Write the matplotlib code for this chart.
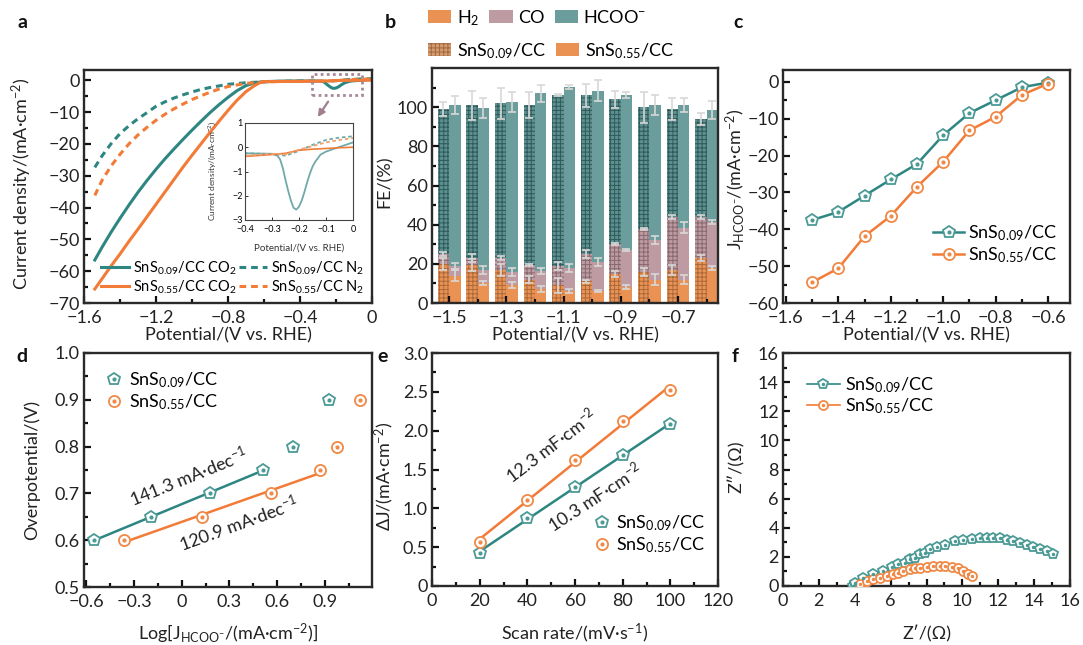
import numpy as np
import matplotlib
matplotlib.use('Agg')
import matplotlib.pyplot as plt
from matplotlib.patches import Patch, Rectangle
from matplotlib.ticker import MultipleLocator, FuncFormatter
from matplotlib.legend_handler import HandlerTuple

plt.rcParams['font.family'] = ['Lato', 'DejaVu Sans']
plt.rcParams['mathtext.fontset'] = 'custom'
plt.rcParams['mathtext.rm'] = 'Lato'
plt.rcParams['mathtext.it'] = 'Lato:italic'
plt.rcParams['mathtext.bf'] = 'Lato:bold'
plt.rcParams['mathtext.default'] = 'regular'
plt.rcParams['hatch.linewidth'] = 0.7

# ---------------- data ----------------
# (a) LSV curves
a_teal_co2_x = [-1.54, -1.5, -1.45, -1.4, -1.35, -1.3, -1.25, -1.2, -1.15, -1.1, -1.05, -1.0, -0.95, -0.9,
                -0.85, -0.8, -0.75, -0.7, -0.65, -0.6, -0.5, -0.4, -0.3, -0.28, -0.27, -0.26, -0.25, -0.24,
                -0.23, -0.22, -0.21, -0.2, -0.19, -0.18, -0.17, -0.16, -0.15, -0.14, -0.12, -0.1, -0.08,
                -0.04, 0.0]
a_teal_co2_y = [-56.5, -52.5, -47.8, -43.4, -39.2, -35.2, -31.5, -28.0, -24.7, -21.6, -18.6, -15.7, -12.9, -10.2,
                -7.7, -5.4, -3.3, -1.7, -0.8, -0.45, -0.3, -0.25, -0.27, -0.35, -0.5, -0.85, -1.35, -1.8,
                -2.2, -2.5, -2.57, -2.45, -2.2, -1.85, -1.45, -1.1, -0.8, -0.6, -0.3, -0.18, -0.1,
                0.05, 0.2]
a_orange_co2_x = [-1.54, -1.5, -1.45, -1.4, -1.35, -1.3, -1.25, -1.2, -1.15, -1.1, -1.05, -1.0, -0.95, -0.9,
                  -0.85, -0.8, -0.75, -0.7, -0.65, -0.62, -0.6, -0.5, -0.4, -0.3, -0.25, -0.2, -0.15, -0.1,
                  -0.05, 0.0]
a_orange_co2_y = [-65.6, -62.4, -58.4, -54.6, -50.6, -46.8, -42.9, -39.0, -35.1, -31.2, -27.3, -23.6, -20.0, -16.4,
                  -12.9, -9.5, -6.3, -3.6, -1.6, -0.7, -0.45, -0.4, -0.38, -0.3, -0.25, -0.12, -0.08, -0.05,
                  -0.02, 0.0]
a_teal_n2_x = [-1.54, -1.5, -1.45, -1.4, -1.35, -1.3, -1.25, -1.2, -1.15, -1.1, -1.05, -1.0, -0.95, -0.9,
               -0.85, -0.8, -0.7, -0.6, -0.5, -0.4, -0.3, -0.25, -0.2, -0.15, -0.1, -0.05, 0.0]
a_teal_n2_y = [-27.4, -23.8, -20.0, -16.8, -14.3, -12.1, -10.2, -8.2, -6.8, -5.6, -4.6, -3.7, -2.9, -2.3,
               -1.8, -1.3, -0.8, -0.5, -0.35, -0.25, -0.28, -0.35, -0.15, 0.1, 0.3, 0.4, 0.45]
a_orange_n2_x = [-1.54, -1.5, -1.45, -1.4, -1.35, -1.3, -1.25, -1.2, -1.15, -1.1, -1.05, -1.0, -0.95, -0.9,
                 -0.85, -0.8, -0.7, -0.6, -0.5, -0.4, -0.3, -0.25, -0.2, -0.15, -0.1, -0.05, 0.0]
a_orange_n2_y = [-36.2, -31.5, -27.0, -23.3, -20.0, -17.2, -14.8, -12.6, -10.7, -9.0, -7.5, -6.1, -4.9, -3.8,
                 -2.8, -2.0, -1.0, -0.55, -0.4, -0.35, -0.27, -0.3, -0.1, 0.05, 0.2, 0.3, 0.38]

# (b) Faradaic efficiency
b_potential = [-1.5, -1.4, -1.3, -1.2, -1.1, -1.0, -0.9, -0.8, -0.7, -0.6]
b09_h2 = [20, 19.5, 17, 12, 9, 11, 15, 16, 17, 23]
b09_co = [5, 3.5, 6, 7.5, 10, 14, 15, 22, 27, 21]
b09_total = [99, 101, 102, 101, 106, 106, 104, 100, 99, 94]
b09_h2_err = [3, 3, 3, 2, 4, 1, 1.5, 2, 2.5, 1.5]
b09_co_err = [1, 2, 1, 0.5, 2, 2, 0.5, 0.5, 1, 1]
b09_tot_err = [3.5, 7.5, 8, 6.5, 0.5, 6, 4.5, 8, 5.5, 3]
b55_h2 = [14, 10, 9, 7, 6, 6, 8, 12, 12, 18]
b55_co = [5, 7, 7, 9.5, 12, 15, 19, 20, 26.5, 23.5]
b55_total = [101, 99.5, 102.5, 107, 110.5, 108.5, 106, 101, 101, 98.5]
b55_h2_err = [3, 1, 1.5, 1.5, 1, 0.5, 1, 3, 2.5, 1]
b55_co_err = [1.5, 2, 2, 1.5, 2, 2, 0.5, 2, 3, 1]
b55_tot_err = [4.5, 5, 5, 4.5, 1, 5.5, 1.5, 5, 3.5, 4.5]

# (c) partial current density of formate
c_potential = [-1.5, -1.4, -1.3, -1.2, -1.1, -1.0, -0.9, -0.8, -0.7, -0.6]
c_j09 = [-37.5, -35.3, -30.9, -26.5, -22.3, -14.5, -8.5, -5.0, -1.5, -0.2]
c_j55 = [-54.4, -50.6, -41.9, -36.4, -28.5, -21.7, -13.2, -9.5, -3.6, -0.5]

# (d) Tafel
d_x09 = [-0.55, -0.195, 0.178, 0.509, 0.70, 0.926]
d_y09 = [0.60, 0.65, 0.70, 0.75, 0.80, 0.90]
d_x55 = [-0.363, 0.13, 0.56, 0.87, 0.975, 1.12]
d_y55 = [0.60, 0.65, 0.70, 0.75, 0.80, 0.90]
d_nfit = 4

# (e) double layer capacitance
e_scan = [20, 40, 60, 80, 100]
e_dj09 = [0.43, 0.87, 1.28, 1.69, 2.08]
e_dj55 = [0.57, 1.11, 1.62, 2.13, 2.53]

# (f) Nyquist
f_z09_re = [3.9, 4.0, 4.01, 4.48, 5.03, 5.59, 6.06, 6.43, 6.80, 7.08, 7.36, 7.64, 7.92, 8.19, 8.57, 9.03,
            9.59, 10.05, 10.52, 10.98, 11.35, 11.72, 12.10, 12.47, 12.84, 13.21, 13.58, 13.95, 14.33,
            14.70, 15.07]
f_z09_im = [0.0, 0.12, 0.23, 0.57, 0.80, 1.03, 1.31, 1.49, 1.61, 1.84, 1.95, 2.18, 2.30, 2.53, 2.69, 2.83,
            3.06, 3.15, 3.22, 3.33, 3.33, 3.33, 3.29, 3.17, 3.06, 2.94, 2.83, 2.69, 2.53, 2.37, 2.18]
f_z55_re = [4.5, 4.29, 4.66, 5.03, 5.41, 5.78, 6.15, 6.43, 6.71, 7.08, 7.36, 7.64, 8.01, 8.38, 8.75, 9.03,
            9.40, 9.77, 10.05, 10.33, 10.52]
f_z55_im = [0.0, 0.11, 0.34, 0.46, 0.57, 0.69, 0.80, 0.92, 1.03, 1.15, 1.22, 1.26, 1.33, 1.38, 1.38, 1.36,
            1.31, 1.22, 1.03, 0.85, 0.69]

# ---------------- style ----------------
TEAL = '#2E8682'
ORANGE = '#F27B37'
MT = '#4C9A96'
MO = '#F08946'
FRAME = '#2a2a2a'
C_H2 = '#EA9253'
C_CO = '#BE9AA2'
C_HC = '#6A9D9C'
H_H2 = '#A9693B'
H_CO = '#876970'
H_HC = '#2E5A5A'
FS = 13

W, H = 1083, 645
fig = plt.figure(figsize=(W / 100, H / 100), dpi=100)


def add_ax(x0, y0, x1, y1):
    return fig.add_axes([x0 / W, 1 - y1 / H, (x1 - x0) / W, (y1 - y0) / H])


def style(ax, lw=1.7, fs=FS):
    for s in ax.spines.values():
        s.set_linewidth(lw)
        s.set_color(FRAME)
    ax.tick_params(which='both', direction='in', top=False, right=False, width=1.6, color='#111111')
    ax.tick_params(which='major', length=5, labelsize=fs, labelcolor='#222222')
    ax.tick_params(axis='x', which='major', pad=5)
    ax.tick_params(axis='y', which='major', pad=3)
    ax.tick_params(which='minor', length=3)


def labels(ax, xl, yl, xy=-0.14, yx=-0.2, yy=0.5):
    ax.text(0.5, xy, xl, transform=ax.transAxes, ha='center', va='center', fontsize=FS, color='#222222')
    ax.text(yx, yy, yl, transform=ax.transAxes, ha='center', va='center', rotation=90, fontsize=FS,
            color='#222222')


def fmt0(v, pos):
    if abs(v) < 1e-9:
        return '0'
    return ('%g' % v).replace('-', '\u2212')


def fmt1(v, pos):
    if abs(v) < 1e-9:
        return '0'
    return ('%.1f' % v).replace('-', '\u2212')


def hollow(ax, x, y, color, marker, ms=8, ls='-', lw=1.8, lcolor=None, dot=2.0, z=3):
    ln = ax.plot(x, y, ls=ls, lw=lw, color=lcolor or color, marker=marker, ms=ms, mfc='white',
                 mec=color, mew=1.3, zorder=z)[0]
    dt = ax.plot(x, y, ls='none', marker='o', ms=dot, color=color, zorder=z + 0.1)[0]
    return ln, dt


HT = {tuple: HandlerTuple(ndivide=1)}

# ---------------- (a) ----------------
axa = add_ax(84, 70, 372, 303)
style(axa)
axa.plot(a_teal_co2_x, a_teal_co2_y, color=TEAL, lw=2.2, label='SnS$_{0.09}$/CC CO$_2$')
axa.plot(a_teal_n2_x, a_teal_n2_y, color=TEAL, lw=2.2, ls=(0, (2.2, 1.6)), label='SnS$_{0.09}$/CC N$_2$')
axa.plot(a_orange_co2_x, a_orange_co2_y, color=ORANGE, lw=2.2, label='SnS$_{0.55}$/CC CO$_2$')
axa.plot(a_orange_n2_x, a_orange_n2_y, color=ORANGE, lw=2.2, ls=(0, (2.2, 1.6)), label='SnS$_{0.55}$/CC N$_2$')
axa.set_xlim(-1.6, 0)
axa.set_ylim(-70, 3.2)
axa.xaxis.set_major_locator(MultipleLocator(0.4))
axa.xaxis.set_minor_locator(MultipleLocator(0.2))
axa.yaxis.set_major_locator(MultipleLocator(10))
axa.yaxis.set_minor_locator(MultipleLocator(5))
axa.xaxis.set_major_formatter(FuncFormatter(fmt1))
axa.yaxis.set_major_formatter(FuncFormatter(fmt0))
labels(axa, 'Potential/(V vs. RHE)', 'Current density/(mA\u00b7cm$^{-2}$)', xy=-0.137, yx=-0.215, yy=0.51)
hs, ls_ = axa.get_legend_handles_labels()
order = [0, 2, 1, 3]
axa.legend([hs[i] for i in order], [ls_[i] for i in order], ncol=2, loc='lower right', frameon=False,
           fontsize=10.5, handlelength=1.9, handletextpad=0.3, columnspacing=0.15, labelspacing=0.1,
           borderaxespad=0.1, bbox_to_anchor=(1.0, 0.0))
axa.add_patch(Rectangle((-0.335, -4.7), 0.28, 6.6, fill=False, ls=(0, (1, 1.2)), lw=2.0, ec='#A88898',
                        zorder=4))
axa.annotate('', xy=(-0.31, -12.3), xytext=(-0.235, -6.0),
             arrowprops=dict(arrowstyle='-|>', color='#A08090', lw=1.6, mutation_scale=10))

# inset
axi = add_ax(245, 123, 353, 220)
for s in axi.spines.values():
    s.set_linewidth(0.8)
    s.set_color('#444444')
axi.tick_params(which='both', direction='in', top=False, right=False, width=0.7, color='#333333')
axi.tick_params(which='major', length=2.5, labelsize=6.5)
axi.tick_params(axis='x', pad=3.5)
axi.tick_params(axis='y', pad=1.5)
axi.plot(a_teal_co2_x, a_teal_co2_y, color='#6FAAA8', lw=1.3)
axi.plot(a_teal_n2_x, a_teal_n2_y, color='#6FAAA8', lw=1.3, ls=(0, (2, 1.5)))
axi.plot(a_orange_co2_x, a_orange_co2_y, color=ORANGE, lw=1.2)
axi.plot(a_orange_n2_x, a_orange_n2_y, color='#F3A06C', lw=1.3, ls=(0, (2, 1.5)))
axi.set_xlim(-0.4, 0)
axi.set_ylim(-3, 1)
axi.xaxis.set_major_locator(MultipleLocator(0.1))
axi.yaxis.set_major_locator(MultipleLocator(1))
axi.xaxis.set_major_formatter(FuncFormatter(fmt1))
axi.yaxis.set_major_formatter(FuncFormatter(fmt0))
axi.text(0.5, -0.29, 'Potential/(V vs. RHE)', transform=axi.transAxes, ha='center', va='center',
         fontsize=7, color='#333333')
axi.text(-0.3, 0.5, 'Current density/(mA\u00b7cm$^{-2}$)', transform=axi.transAxes, ha='center',
         va='center', rotation=90, fontsize=6, color='#333333')

# ---------------- (b) ----------------
axb = add_ax(432, 68, 718, 303)
style(axb)
pot = np.array(b_potential)
bw = 0.04
h09 = np.array(b09_h2); co09 = np.array(b09_co); t09 = np.array(b09_total)
h55 = np.array(b55_h2); co55 = np.array(b55_co); t55 = np.array(b55_total)
x09 = pot - bw / 2
x55 = pot + bw / 2
axb.bar(x09, h09, bw, color=C_H2, edgecolor=H_H2, hatch='++++', linewidth=0)
axb.bar(x09, co09, bw, bottom=h09, color=C_CO, edgecolor=H_CO, hatch='++++', linewidth=0)
axb.bar(x09, t09 - h09 - co09, bw, bottom=h09 + co09, color='#5F9090', edgecolor=H_HC, hatch='++++',
        linewidth=0)
axb.bar(x55, h55, bw, color=C_H2, linewidth=0)
axb.bar(x55, co55, bw, bottom=h55, color=C_CO, linewidth=0)
axb.bar(x55, t55 - h55 - co55, bw, bottom=h55 + co55, color=C_HC, linewidth=0)
ek = dict(fmt='none', ecolor='#D8D8D8', elinewidth=1.2, capsize=2.8, capthick=1.2, zorder=5)
axb.errorbar(x09, h09, yerr=b09_h2_err, **ek)
axb.errorbar(x09, h09 + co09, yerr=b09_co_err, **ek)
axb.errorbar(x09, t09, yerr=b09_tot_err, **ek)
axb.errorbar(x55, h55, yerr=b55_h2_err, **ek)
axb.errorbar(x55, h55 + co55, yerr=b55_co_err, **ek)
axb.errorbar(x55, t55, yerr=b55_tot_err, **ek)
axb.set_xlim(-1.56, -0.56)
axb.set_ylim(0, 120)
axb.set_xticks([-1.5, -1.3, -1.1, -0.9, -0.7])
axb.xaxis.set_minor_locator(MultipleLocator(0.1))
axb.set_yticks([0, 20, 40, 60, 80, 100])
axb.set_yticks([10, 30, 50, 70, 90, 110], minor=True)
axb.xaxis.set_major_formatter(FuncFormatter(fmt1))
labels(axb, 'Potential/(V vs. RHE)', 'FE/(%)', xy=-0.137, yx=-0.165, yy=0.515)
fig.legend(handles=[Patch(facecolor=C_H2), Patch(facecolor=C_CO), Patch(facecolor=C_HC)],
           labels=['H$_2$', 'CO', 'HCOO$^{-}$'], loc='upper left', bbox_to_anchor=(428 / W, 1 - 8 / H),
           ncol=3, frameon=False, fontsize=FS, handlelength=1.3, handleheight=0.75,
           handletextpad=0.3, columnspacing=0.55, borderpad=0, borderaxespad=0)
fig.legend(handles=[Patch(facecolor='#D99B6C', edgecolor='#9C6A45', hatch='++++', linewidth=0),
                    Patch(facecolor=C_H2)],
           labels=['SnS$_{0.09}$/CC', 'SnS$_{0.55}$/CC'], loc='upper left', bbox_to_anchor=(428 / W, 1 - 41 / H),
           ncol=2, frameon=False, fontsize=FS, handlelength=1.3, handleheight=0.75,
           handletextpad=0.3, columnspacing=0.55, borderpad=0, borderaxespad=0)

# ---------------- (c) ----------------
axc = add_ax(783, 70, 1070, 303)
style(axc)
l1 = hollow(axc, c_potential, c_j09, MT, 'p', ms=9, lcolor=TEAL)
l2 = hollow(axc, c_potential, c_j55, MO, 'o', ms=8, lcolor=ORANGE)
axc.set_xlim(-1.611, -0.516)
axc.set_ylim(-60, 3.2)
axc.xaxis.set_major_locator(MultipleLocator(0.2))
axc.xaxis.set_minor_locator(MultipleLocator(0.1))
axc.yaxis.set_major_locator(MultipleLocator(10))
axc.yaxis.set_minor_locator(MultipleLocator(5))
axc.xaxis.set_major_formatter(FuncFormatter(fmt1))
axc.yaxis.set_major_formatter(FuncFormatter(fmt0))
labels(axc, 'Potential/(V vs. RHE)', 'J$_{HCOO^{-}}$/(mA\u00b7cm$^{-2}$)', xy=-0.137, yx=-0.167, yy=0.53)
axc.legend([l1, l2], ['SnS$_{0.09}$/CC', 'SnS$_{0.55}$/CC'], handler_map=HT,
           loc='lower right', frameon=False, fontsize=FS, handlelength=1.7, handletextpad=0.25,
           labelspacing=0.1, borderaxespad=0.3, bbox_to_anchor=(1.0, 0.11))

# ---------------- (d) ----------------
axd = add_ax(84, 353, 372, 587)
style(axd)
for xs, ys, lc in [(d_x09, d_y09, TEAL), (d_x55, d_y55, ORANGE)]:
    p = np.polyfit(xs[:d_nfit], ys[:d_nfit], 1)
    xx = np.array([xs[0], xs[d_nfit - 1]])
    axd.plot(xx, np.polyval(p, xx), color=lc, lw=1.8, zorder=2)
m1 = hollow(axd, d_x09, d_y09, MT, 'p', ms=9, ls='none')
m2 = hollow(axd, d_x55, d_y55, MO, 'o', ms=8, ls='none')
axd.set_xlim(-0.614, 1.196)
axd.set_ylim(0.5, 1.0)
axd.xaxis.set_major_locator(MultipleLocator(0.3))
axd.xaxis.set_minor_locator(MultipleLocator(0.15))
axd.yaxis.set_major_locator(MultipleLocator(0.1))
axd.yaxis.set_minor_locator(MultipleLocator(0.05))
axd.xaxis.set_major_formatter(FuncFormatter(fmt1))
axd.yaxis.set_major_formatter(FuncFormatter(fmt1))
labels(axd, 'Log[J$_{HCOO^{-}}$/(mA\u00b7cm$^{-2}$)]', 'Overpotential/(V)', xy=-0.2, yx=-0.18, yy=0.5)
axd.text(0.046, 0.735, '141.3 mA\u00b7dec$^{-1}$', rotation=22, ha='center', va='center', fontsize=FS,
         color='#222222', rotation_mode='anchor')
axd.text(0.356, 0.636, '120.9 mA\u00b7dec$^{-1}$', rotation=20, ha='center', va='center', fontsize=FS,
         color='#222222', rotation_mode='anchor')
axd.legend([m1, m2], ['SnS$_{0.09}$/CC', 'SnS$_{0.55}$/CC'], handler_map=HT,
           loc='upper left', frameon=False, fontsize=FS, handlelength=1.0, handletextpad=0.3,
           labelspacing=0.1, borderaxespad=0.3, bbox_to_anchor=(0.03, 0.98))

# ---------------- (e) ----------------
axe = add_ax(432, 353, 718, 586)
style(axe)
for ys, lc in [(e_dj09, TEAL), (e_dj55, ORANGE)]:
    p = np.polyfit(e_scan, ys, 1)
    xx = np.array([e_scan[0], e_scan[-1]])
    axe.plot(xx, np.polyval(p, xx), color=lc, lw=1.8, zorder=2)
n1 = hollow(axe, e_scan, e_dj09, MT, 'p', ms=9, ls='none')
n2 = hollow(axe, e_scan, e_dj55, MO, 'o', ms=8, ls='none')
axe.set_xlim(0, 120)
axe.set_ylim(0, 3)
axe.xaxis.set_major_locator(MultipleLocator(20))
axe.xaxis.set_minor_locator(MultipleLocator(10))
axe.yaxis.set_major_locator(MultipleLocator(0.5))
axe.yaxis.set_minor_locator(MultipleLocator(0.25))
axe.xaxis.set_major_formatter(FuncFormatter(fmt0))
axe.yaxis.set_major_formatter(FuncFormatter(fmt1))
labels(axe, 'Scan rate/(mV\u00b7s$^{-1}$)', '\u0394J/(mA\u00b7cm$^{-2}$)', xy=-0.205, yx=-0.165, yy=0.47)
axe.text(49.9, 1.81, '12.3 mF\u00b7cm$^{-2}$', rotation=37, ha='center', va='center', fontsize=FS,
         color='#222222', rotation_mode='anchor')
axe.text(68.6, 1.14, '10.3 mF\u00b7cm$^{-2}$', rotation=33, ha='center', va='center', fontsize=FS,
         color='#222222', rotation_mode='anchor')
axe.legend([n1, n2], ['SnS$_{0.09}$/CC', 'SnS$_{0.55}$/CC'], handler_map=HT,
           loc='lower right', frameon=False, fontsize=FS, handlelength=1.0, handletextpad=0.3,
           labelspacing=0.1, borderaxespad=0.3, bbox_to_anchor=(1.0, 0.08))

# ---------------- (f) ----------------
axf = add_ax(783, 353, 1070, 586)
style(axf)
k1 = hollow(axf, f_z09_re, f_z09_im, MT, 'p', ms=7, lw=1.2, lcolor=TEAL, dot=1.5)
k2 = hollow(axf, f_z55_re, f_z55_im, MO, 'o', ms=6.5, lw=1.2, lcolor=ORANGE, dot=1.5)
axf.set_xlim(0, 16)
axf.set_ylim(0, 16)
axf.xaxis.set_major_locator(MultipleLocator(2))
axf.xaxis.set_minor_locator(MultipleLocator(1))
axf.yaxis.set_major_locator(MultipleLocator(2))
axf.yaxis.set_minor_locator(MultipleLocator(1))
labels(axf, 'Z\u2032/(\u03a9)', 'Z\u2033/(\u03a9)', xy=-0.205, yx=-0.161, yy=0.51)
axf.legend([k1, k2], ['SnS$_{0.09}$/CC', 'SnS$_{0.55}$/CC'], handler_map=HT,
           loc='upper left', frameon=False, fontsize=FS, handlelength=1.8, handletextpad=0.3,
           labelspacing=0.1, borderaxespad=0.3, bbox_to_anchor=(0.04, 0.96))

# panel letters
for t, x, y in [('a', 22, 23), ('b', 390, 23), ('c', 738, 23), ('d', 22, 357), ('e', 383, 357), ('f', 735, 357)]:
    fig.text(x / W, 1 - y / H, t, fontsize=14, fontweight='bold', ha='center', va='center', color='#111111')

fig.savefig('out.png', dpi=100)
